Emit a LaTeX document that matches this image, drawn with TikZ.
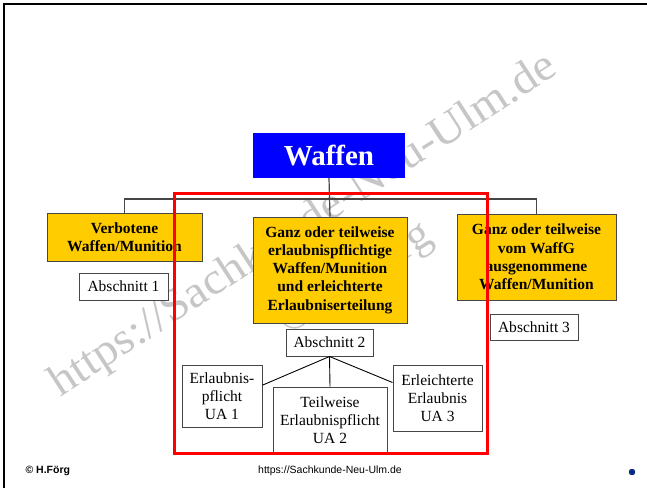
\documentclass[tikz,border=0pt]{standalone}
\usepackage{fontspec}
\setmainfont{Liberation Serif}
\newfontfamily\footfont{Liberation Sans}
\usetikzlibrary{positioning}

\definecolor{boxyellow}{RGB}{255,204,0}
\definecolor{headblue}{RGB}{0,0,255}
\definecolor{framegray}{RGB}{70,70,70}
\definecolor{markgray}{RGB}{198,198,198}
\definecolor{dotblue}{RGB}{0,45,140}

\tikzset{
  headbox/.style={fill=headblue, text=white, inner sep=0pt,
    font=\bfseries\fontsize{29}{34}\selectfont},
  lawbox/.style={draw=framegray, line width=1pt, fill=boxyellow, align=center,
    inner sep=0pt, font=\bfseries\fontsize{15.5}{18.3}\selectfont},
  partbox/.style={draw=framegray, line width=1pt, fill=white, align=center,
    inner sep=0pt, font=\fontsize{15.5}{18.3}\selectfont},
  link/.style={draw=framegray, line width=1.2pt},
  watermark/.style={text=markgray, font=\fontsize{45}{50}\selectfont, rotate=33}
}

\begin{document}
\begin{tikzpicture}[x=1pt,y=-1pt]
    \useasboundingbox (0,0) rectangle (647,488);

    % Frame
    \draw[line width=2pt] (4,488) -- (4,4) -- (647,4);

    % Watermark
    \node[watermark, xscale=1.06] (markurl) at (304,226) {https://Sachkunde-Neu-Ulm.de};
    \node[watermark] (markname) at (356,280) {© H.Förg};

    % Top box
    \node[headbox, minimum width=152pt, minimum height=45pt] (waffen) at (329,155.5) {Waffen};

    % Main groups
    \node[lawbox, minimum width=155pt, minimum height=48pt] (verboten) at (124.5,237)
      {Verbotene\\Waffen/Munition};
    \node[lawbox, minimum width=154pt, minimum height=106pt] (erlaubnis) at (330,270)
      {Ganz oder teilweise\\erlaubnispflichtige\\Waffen/Munition\\und erleichterte\\Erlaubniserteilung};
    \node[lawbox, minimum width=159pt, minimum height=86pt] (ausgenommen) at (536.5,257)
      {Ganz oder teilweise\\vom WaffG\\ausgenommene\\Waffen/Munition};

    % Sections
    \node[partbox, minimum width=89pt, minimum height=27pt] (abs1) at (123.5,286.5) {Abschnitt 1};
    \node[partbox, minimum width=87pt, minimum height=27pt] (abs2) at (329.5,342.5) {Abschnitt 2};
    \node[partbox, minimum width=88pt, minimum height=26pt] (abs3) at (534,327) {Abschnitt 3};

    % Subsections
    \node[partbox, minimum width=80pt, minimum height=62pt] (ua1) at (222,396)
      {Erlaubnis-\\pflicht\\UA 1};
    \node[partbox, minimum width=114pt, minimum height=66pt] (ua2) at (330,420)
      {Teilweise\\Erlaubnispflicht\\UA 2};
    \node[partbox, minimum width=89pt, minimum height=66pt] (ua3) at (437.5,398)
      {Erleichterte\\Erlaubnis\\UA 3};

    % Connectors
    \coordinate (bus) at (0,199);
    \draw[link] (waffen.south) -- (erlaubnis.north);
    \draw[link] (verboten.north) -- (verboten.north |- bus)
      -- (ausgenommen.north |- bus) -- (ausgenommen.north);
    \draw[line width=0.9pt] (abs2.south) -- (ua1.15);
    \draw[line width=0.9pt] (abs2.south) -- (ua2.north);
    \draw[line width=0.9pt] (abs2.south) -- (ua3.161);

    % Red frame around Abschnitt 2
    \draw[red, line width=3pt] (174,193) rectangle (487,453);

    % Footer
    \node[anchor=west, font=\footfont\bfseries\fontsize{10.5}{12}\selectfont] (author) at (22,471) {© H.Förg};
    \node[font=\footfont\fontsize{10.5}{12}\selectfont] (site) at (330,471) {https://Sachkunde-Neu-Ulm.de};
    \filldraw[fill=dotblue, draw=dotblue!70!black] (632,472) circle (3pt);

\end{tikzpicture}
\end{document}
